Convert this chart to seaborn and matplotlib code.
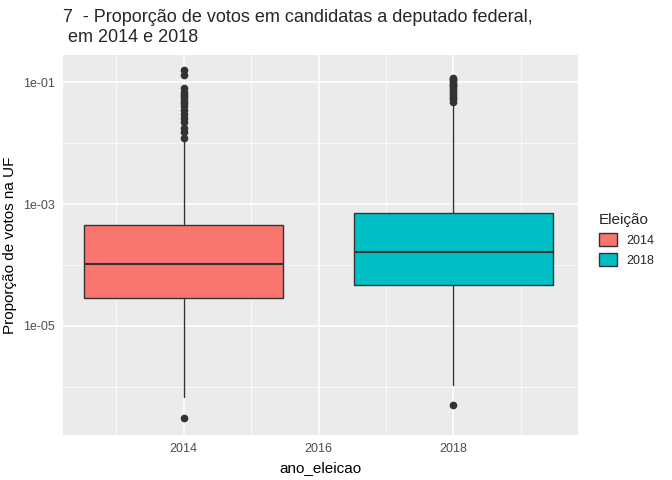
import numpy as np
import matplotlib
matplotlib.use("Agg")
import matplotlib.pyplot as plt
import seaborn as sns
from matplotlib.patches import Patch
from matplotlib.ticker import FixedLocator, NullFormatter

sns.set_theme(style="darkgrid")
plt.rcParams['font.family'] = ['Liberation Sans', 'DejaVu Sans']

anos = [2014, 2018]
cores = ['#F8766D', '#00BFC4']
q1 = [2.9e-5, 4.7e-5]
mediana = [1.05e-4, 1.63e-4]
q3 = [4.5e-4, 7.1e-4]
bigode_inf = [6.9e-7, 1.05e-6]
bigode_sup = [1.1e-2, 4.5e-2]
outliers = [
    [3.1e-7, 1.2e-2, 1.5e-2, 1.8e-2, 2.2e-2, 2.6e-2, 3.0e-2, 3.5e-2, 4.0e-2, 4.5e-2,
     5.0e-2, 5.5e-2, 6.0e-2, 6.5e-2, 7.0e-2, 8.0e-2, 1.3e-1, 1.6e-1],
    [5.1e-7, 4.8e-2, 5.2e-2, 5.6e-2, 6.0e-2, 6.5e-2, 7.0e-2, 7.5e-2, 8.0e-2, 8.5e-2,
     9.0e-2, 9.5e-2, 1.0e-1, 1.07e-1, 1.12e-1, 1.17e-1],
]

fig = plt.figure(figsize=(6.72, 4.8), dpi=100)
ax = fig.add_axes([0.094, 0.094, 0.766, 0.791])
ax.set_facecolor('#EBEBEB')

stats = []
for i in range(len(anos)):
    stats.append(dict(med=mediana[i], q1=q1[i], q3=q3[i], whislo=bigode_inf[i],
                      whishi=bigode_sup[i], fliers=outliers[i]))
bp = ax.bxp(stats, positions=anos, widths=2.96, patch_artist=True,
            medianprops=dict(color='#333333', lw=1.5),
            whiskerprops=dict(color='#333333', lw=1), capprops=dict(linewidth=0),
            boxprops=dict(edgecolor='#333333', lw=1),
            flierprops=dict(marker='o', markerfacecolor='#333333', markeredgecolor='#333333',
                            markersize=4.5, linestyle='none'), manage_ticks=False)
for patch, c in zip(bp['boxes'], cores):
    patch.set_facecolor(c)

ax.set_yscale('log')
ax.set_ylim(10**-6.79, 10**-0.557)
ax.set_xlim(2012.21, 2019.85)
ax.set_xticks([2014, 2016, 2018])
ax.set_xticklabels(['2014', '2016', '2018'])
ax.set_yticks([1e-5, 1e-3, 1e-1])
ax.set_yticklabels(['1e-05', '1e-03', '1e-01'])
ax.xaxis.set_minor_locator(FixedLocator([2013, 2015, 2017, 2019]))
ax.yaxis.set_minor_locator(FixedLocator([1e-6, 1e-4, 1e-2]))
ax.yaxis.set_minor_formatter(NullFormatter())
ax.grid(which='major', color='white', lw=1.1)
ax.grid(which='minor', color='white', lw=0.5)
ax.set_axisbelow(True)
for s in ax.spines.values():
    s.set_visible(False)
ax.tick_params(axis='both', which='major', labelsize=9, colors='#4D4D4D', length=3, pad=3)
ax.tick_params(which='minor', length=0)
ax.tick_params(axis='both', which='major', color='#333333')

ax.set_xlabel('ano_eleicao', fontsize=11, color='black')
ax.set_ylabel('Proporção de votos na UF', fontsize=11, color='black')
fig.text(0.094, 0.905, '7  - Proporção de votos em candidatas a deputado federal,\n em 2014 e 2018',
         fontsize=13, ha='left', va='bottom')

handles = [Patch(facecolor=c, edgecolor='#333333', label=str(a)) for a, c in zip(anos, cores)]
leg = fig.legend(handles=handles, title='Eleição', loc='center left', bbox_to_anchor=(0.875, 0.50),
                 frameon=False, fontsize=9, title_fontsize=11, handlelength=1.4, handleheight=1.2,
                 alignment='left')
fig.savefig('out.png', dpi=100)
